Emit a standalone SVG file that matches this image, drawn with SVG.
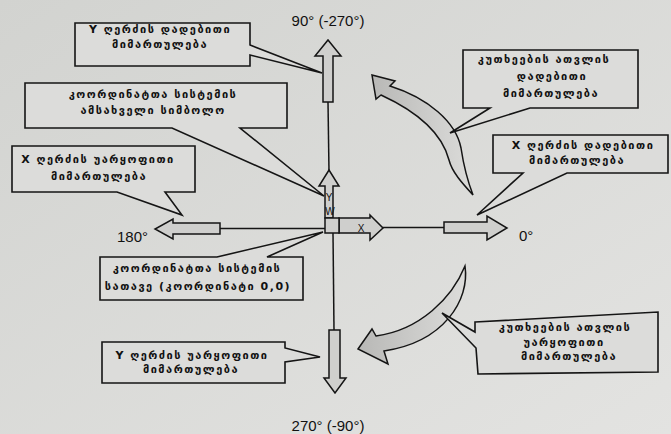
<svg xmlns="http://www.w3.org/2000/svg" width="671" height="434" viewBox="0 0 671 434">
<defs>
<linearGradient id="bg" x1="0" y1="0" x2="1" y2="1">
<stop offset="0" stop-color="#d2d3d0"/>
<stop offset="1" stop-color="#e3e3e1"/>
</linearGradient>
<linearGradient id="cv" x1="0" y1="0" x2="1" y2="0">
<stop offset="0" stop-color="#b8b8b6"/>
<stop offset="1" stop-color="#dcdcda"/>
</linearGradient>
<style>
.box{fill:#dcdcda;stroke:#151515;stroke-width:1.6;stroke-linejoin:miter}
.ka{font-family:"DejaVu Sans","Noto Sans",sans-serif;font-size:11px;font-weight:bold;letter-spacing:1.5px;fill:#111;text-anchor:middle}
.lbl{font-family:"Liberation Sans",Arial,sans-serif;font-size:15px;fill:#111}
.sm{font-family:"Liberation Sans",Arial,sans-serif;font-size:10px;fill:#111}
.arr{fill:#cfcfcd;stroke:#151515;stroke-width:1.5;stroke-linejoin:miter}
.ax{stroke:#151515;stroke-width:1.5;fill:none}
.cur{fill:url(#cv);stroke:#151515;stroke-width:1.5}
</style>
</defs>
<rect width="671" height="434" fill="url(#bg)"/>

<g id="connectors">
<line class="ax" x1="328" y1="102" x2="329" y2="172"/>
<line class="ax" x1="333" y1="233" x2="334" y2="330"/>
<line class="ax" x1="220" y1="228.5" x2="325" y2="228.5"/>
<line class="ax" x1="383" y1="227.5" x2="444" y2="227.5"/>
</g>

<g id="arrow-up"><polygon class="arr" points="323,102 323,56 315,56 328,40 341,56 333,56 333,102"/></g>
<g id="arrow-down"><polygon class="arr" points="329,330 340,330 340,378 346,378 335,393 324,378 329,378"/></g>
<g id="arrow-left"><polygon class="arr" points="220,223 173,223 173,219 155,229 173,239 173,234 220,234"/></g>
<g id="arrow-right"><polygon class="arr" points="444,222 487,222 487,216 507,228 487,240 487,233 444,233"/></g>

<g id="origin-symbol">
<polygon class="arr" points="325,218 325,186 319,186 329,170 339,186 333,186 333,218"/>
<polygon class="arr" points="339,218 370,218 370,215 383,228 370,240 370,233 339,233"/>
<rect class="arr" x="325" y="218" width="14" height="15"/>
<text class="sm" x="329" y="201" text-anchor="middle">Y</text>
<text class="sm" x="330" y="215" text-anchor="middle" font-size="9">W</text>
<text class="sm" x="361" y="232" text-anchor="middle">X</text>
</g>

<g id="curve-positive">
<path class="cur" d="M372,75 L395,81 L390,86 C428,98 456,122 461,148 C464,168 468,182 473,195 C462,183 452,172 449,160 C442,133 418,112 381,95 L376,99 Z"/>
</g>
<g id="curve-negative">
<path class="cur" d="M358,349 L372,329 L376,336 C420,330 452,298 465,266 C470,300 444,342 384,351 L388,364 Z"/>
</g>

<g id="label-90"><text class="lbl" x="328" y="26" text-anchor="middle">90° (-270°)</text></g>
<g id="label-180"><text class="lbl" x="117" y="242">180°</text></g>
<g id="label-0"><text class="lbl" x="519" y="241">0°</text></g>
<g id="label-270"><text class="lbl" x="328" y="431" text-anchor="middle">270° (-90°)</text></g>

<g id="box-y-pos">
<path class="box" d="M75,23 H250 V45 L322,73 L250,55 V66 H75 Z"/>
<text class="ka" x="160" y="33">Y ღერძის დადებითი</text>
<text class="ka" x="160" y="48">მიმართულება</text>
</g>

<g id="box-angle-pos">
<path class="box" d="M463,50 H638 V108 H530 L450,133 L490,108 H463 Z"/>
<text class="ka" x="544" y="63">კუთხეების ათვლის</text>
<text class="ka" x="552" y="80">დადებითი</text>
<text class="ka" x="551" y="97">მიმართულება</text>
</g>

<g id="box-symbol">
<path class="box" d="M25,83 H287 V128 H240 L324,196 L172,128 H25 Z"/>
<text class="ka" x="153" y="98">კოორდინატთა სისტემის</text>
<text class="ka" x="153" y="114">ამსახველი სიმბოლო</text>
</g>

<g id="box-x-neg">
<path class="box" d="M12,146 H195 V192 H165 L182,215 L117,192 H12 Z"/>
<text class="ka" x="98" y="163">X ღერძის უარყოფითი</text>
<text class="ka" x="99" y="180">მიმართულება</text>
</g>

<g id="box-x-pos">
<path class="box" d="M493,135 H668 V173 H567 L477,215 L523,173 H493 Z"/>
<text class="ka" x="583" y="149">X ღერძის დადებითი</text>
<text class="ka" x="577" y="164">მიმართულება</text>
</g>

<g id="box-origin">
<path class="box" d="M100,257 H217 L323,232 L267,257 H303 V300 H100 Z"/>
<text class="ka" x="197" y="272">კოორდინატთა სისტემის</text>
<text class="ka" x="198" y="290">სათავე (კოორდინატი 0,0)</text>
</g>

<g id="box-angle-neg">
<path class="box" d="M475,322 L658,312 V372 L478,374 L476,348 L442,313 L475,332 Z"/>
<text class="ka" x="565" y="331">კუთხეების ათვლის</text>
<text class="ka" x="564" y="346">უარყოფითი</text>
<text class="ka" x="569" y="360">მიმართულება</text>
</g>

<g id="box-y-neg">
<path class="box" d="M102,342 H285 V348 L320,357 L285,362 V383 H102 Z"/>
<text class="ka" x="192" y="359">Y ღერძის უარყოფითი</text>
<text class="ka" x="191" y="373">მიმართულება</text>
</g>
</svg>
